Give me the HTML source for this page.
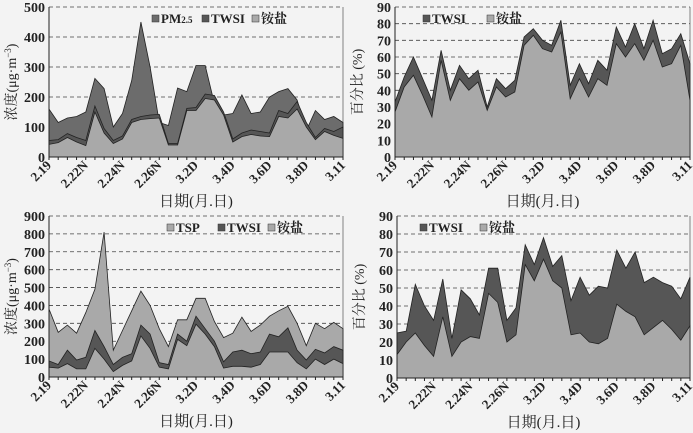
<!DOCTYPE html><html><head><meta charset="utf-8"><style>
body{margin:0;background:#f3f3f3;}
svg{display:block;font-family:"Liberation Serif","Noto Serif CJK SC",serif;}
</style></head><body>
<svg id="s" width="693" height="433" xmlns="http://www.w3.org/2000/svg"></svg>
<script>
const S=document.getElementById('s');let h='';
function fix(a){a=a.slice(0,33);while(a.length<33)a.push(a[a.length-1]);return a;}
const labs=['2.19','2.22N','2.24N','2.26N','3.2D','3.4D','3.6D','3.8D','3.11'];
const labI=[0,4,8,12,16,20,24,28,32];
function plot(x0,x1,yb,yt,max,step,series,legend,ytitle){
 const n=33,dx=(x1-x0)/(n-1);
 const X=i=>x0+i*dx,Y=v=>yb-(v/max)*(yb-yt);
 for(let v=step;v<=max;v+=step){h+=`<line x1="${x0}" x2="${x1}" y1="${Y(v)}" y2="${Y(v)}" stroke="#444" stroke-dasharray="4,3" stroke-width="0.8"/>`;}
 h+=`<line x1="${x1}" x2="${x1}" y1="${yt}" y2="${yb}" stroke="#666" stroke-width="0.8"/>`;
 for(const s of series){const a=fix(s.d);let p=`M${x0},${yb}`;a.forEach((v,i)=>p+=` L${X(i).toFixed(1)},${Y(v).toFixed(1)}`);p+=` L${x1},${yb}Z`;
  h+=`<path d="${p}" fill="${s.c}" stroke="#222" stroke-width="0.8"/>`;}
 h+=`<line x1="${x0}" x2="${x0}" y1="${yt}" y2="${yb}" stroke="#222"/><line x1="${x0}" x2="${x1}" y1="${yb}" y2="${yb}" stroke="#222"/>`;
 for(let i=0;i<n;i++)h+=`<line x1="${X(i)}" x2="${X(i)}" y1="${yb}" y2="${yb+3}" stroke="#222"/>`;
 for(let v=0;v<=max;v+=step)h+=`<text x="${x0-4}" y="${Y(v)+5}" font-size="14" font-weight="bold" text-anchor="end" fill="#222">${v}</text>`;
 labI.forEach((i,k)=>{const x=X(i)+3,y=yb+9;h+=`<text transform="translate(${x},${y}) rotate(-45)" font-size="13" font-weight="bold" text-anchor="end" fill="#222">${labs[k]}</text>`;});
 h+=`<text x="${(x0+x1)/2}" y="${yb+49}" font-size="15" text-anchor="middle" fill="#222">日期(月.日)</text>`;
 h+=`<text transform="translate(${x0-33},${(yb+yt)/2}) rotate(-90)" font-size="14" text-anchor="middle" fill="#222">${ytitle}</text>`;
 for(const l of legend){h+=`<rect x="${l.x}" y="${yt+l.y-8}" width="7" height="7" fill="${l.c}" stroke="#333" stroke-width="0.5"/><text x="${l.x+9}" y="${yt+l.y}" font-size="13" font-weight="bold" fill="#222">${l.t}</text>`;}
}
const D='#565656',L='#a9a9a9',M='#6c6c6c';
plot(49,343,157,7,500,100,[
 {c:M,d:[160,115,130,135,150,262,228,100,145,255,450,300,115,105,230,218,305,305,178,140,145,207,145,150,200,218,228,190,88,155,125,135,115]},
 {c:D,d:[55,58,78,65,55,170,95,55,70,125,135,140,142,45,45,162,165,210,205,150,60,80,90,85,80,155,145,185,115,65,95,85,100]},
 {c:L,d:[42,48,65,50,38,150,80,45,60,115,125,128,130,40,40,155,155,195,190,140,50,68,75,70,68,135,130,160,100,58,85,72,62]}],
 [{x:152,y:16,c:M,t:'PM<tspan font-size="9">2.5</tspan>'},{x:202,y:16,c:D,t:'TWSI'},{x:252,y:16,c:L,t:'铵盐'}],'浓度(μg·m<tspan font-size="9" dy="-5">−3</tspan><tspan dy="5">)</tspan>');
plot(395,690,157,7,90,10,[
 {c:D,d:[33,48,60,47,34,64,40,55,47,52,30,47,41,46,72,77,70,67,82,43,56,44,58,52,78,66,80,65,82,62,65,74,56]},
 {c:L,d:[27,42,49,37,24,58,34,47,40,45,28,42,36,39,67,73,65,63,75,35,47,36,47,43,68,60,68,58,70,54,56,67,34]}],
 [{x:423,y:16,c:D,t:'TWSI'},{x:487,y:16,c:L,t:'铵盐'}],'百分比 (%)');
plot(49,343,377,216,900,100,[
 {c:L,d:[380,250,290,245,360,490,810,150,260,370,480,400,270,170,320,320,440,440,310,220,245,335,255,290,340,370,395,300,175,300,270,305,270]},
 {c:D,d:[90,70,150,95,110,260,170,70,110,130,290,240,80,70,240,200,340,270,200,85,140,150,130,140,240,225,275,150,95,155,135,170,150]},
 {c:L,d:[55,50,75,45,45,160,100,30,65,90,230,160,55,45,210,175,295,240,170,50,60,60,55,70,140,140,140,80,45,100,70,100,75]}],
 [{x:167,y:16,c:L,t:'TSP'},{x:218,y:16,c:D,t:'TWSI'},{x:268,y:16,c:L,t:'铵盐'}],'浓度(μg·m<tspan font-size="9" dy="-5">−3</tspan><tspan dy="5">)</tspan>');
plot(397,690,378,216,90,10,[
 {c:D,d:[25,26,52,40,32,55,22,49,44,35,61,61,32,39,74,63,78,62,68,43,56,46,51,50,71,61,70,53,56,53,51,44,56]},
 {c:L,d:[13,20,25,18,12,34,12,20,23,22,47,42,20,24,63,54,66,54,50,24,25,20,19,22,41,37,34,24,28,32,27,21,29]}],
 [{x:420,y:16,c:D,t:'TWSI'},{x:480,y:16,c:L,t:'铵盐'}],'百分比 (%)');
S.innerHTML=h;
</script></body></html>
